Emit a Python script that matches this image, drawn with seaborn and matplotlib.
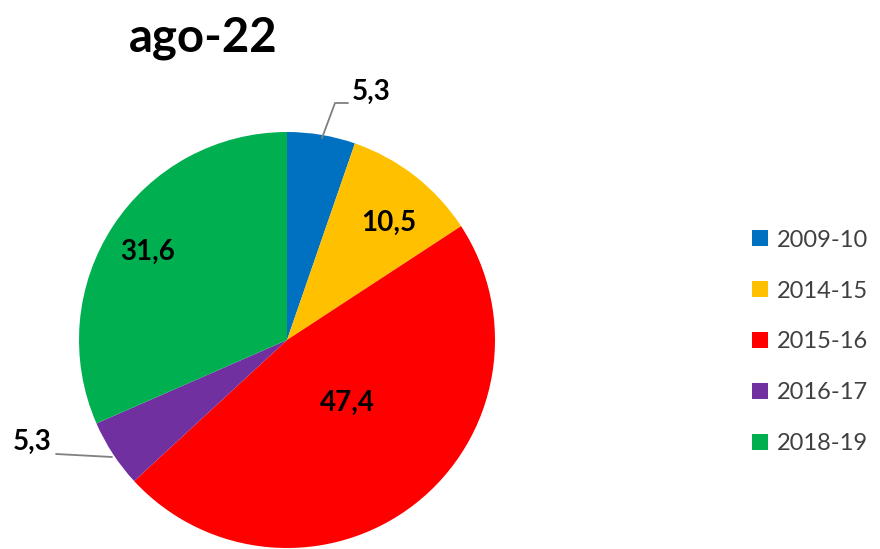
import matplotlib
matplotlib.use("Agg")
import matplotlib.pyplot as plt
import seaborn as sns
from matplotlib.patches import Patch

sns.set_theme(style="white")
plt.rcParams['font.family'] = ['Lato', 'DejaVu Sans']

title = "ago-22"
seasons = ["2009-10", "2014-15", "2015-16", "2016-17", "2018-19"]
shares = [5.3, 10.5, 47.4, 5.3, 31.6]
colors = ["#0070C0", "#FFC000", "#FF0000", "#7030A0", "#00B050"]

W, H = 880, 549
fig = plt.figure(figsize=(W / 100, H / 100), dpi=100)

# pie axes: centre (287, 340) px, radius 208 px
cx, cy, r = 287, 340, 208
ax = fig.add_axes([(cx - r) / W, (H - cy - r) / H, 2 * r / W, 2 * r / H])
ax.pie(shares, colors=colors, startangle=90, counterclock=False,
       radius=1.0, wedgeprops=dict(linewidth=0))
ax.set_xlim(-1, 1)
ax.set_ylim(-1, 1)
ax.set_aspect("equal")
ax.axis("off")


def fmt(v):
    return f"{v:.1f}".replace(".", ",")


def px(x, y):
    return ((x - cx) / r, (cy - y) / r)


lbl_kw = dict(fontsize=20, fontweight="bold", color="black",
              ha="center", va="center")
# labels inside the larger slices
ax.text(*px(389, 223), fmt(shares[1]), **lbl_kw)
ax.text(*px(347, 403), fmt(shares[2]), **lbl_kw)
ax.text(*px(148, 252), fmt(shares[4]), **lbl_kw)

# outside labels with leader lines for the small slices
lc = "#808080"
p0, p1, p2 = px(322, 138), px(335, 103), px(348, 103)
ax.plot([p0[0], p1[0], p2[0]], [p0[1], p1[1], p2[1]], color=lc, lw=1.3,
        clip_on=False)
ax.text(*px(371, 92), fmt(shares[0]), clip_on=False, **lbl_kw)

q0, q1 = px(112, 457), px(56, 454)
ax.plot([q0[0], q1[0]], [q0[1], q1[1]], color=lc, lw=1.3, clip_on=False)
ax.text(*px(32, 442), fmt(shares[3]), clip_on=False, **lbl_kw)

fig.text(203 / W, 1 - 38 / H, title, fontsize=34, fontweight="bold",
         ha="center", va="center", color="black")

handles = [Patch(facecolor=c, edgecolor="none") for c in colors]
leg = fig.legend(handles, seasons, loc="center left",
                 bbox_to_anchor=(752 / W, 1 - 342 / H), frameon=False,
                 borderpad=0, borderaxespad=0,
                 fontsize=17, handlelength=0.68, handleheight=0.68,
                 handletextpad=0.38, labelspacing=1.27,
                 labelcolor="#404040")

fig.savefig("out.png", dpi=100, facecolor="white")
